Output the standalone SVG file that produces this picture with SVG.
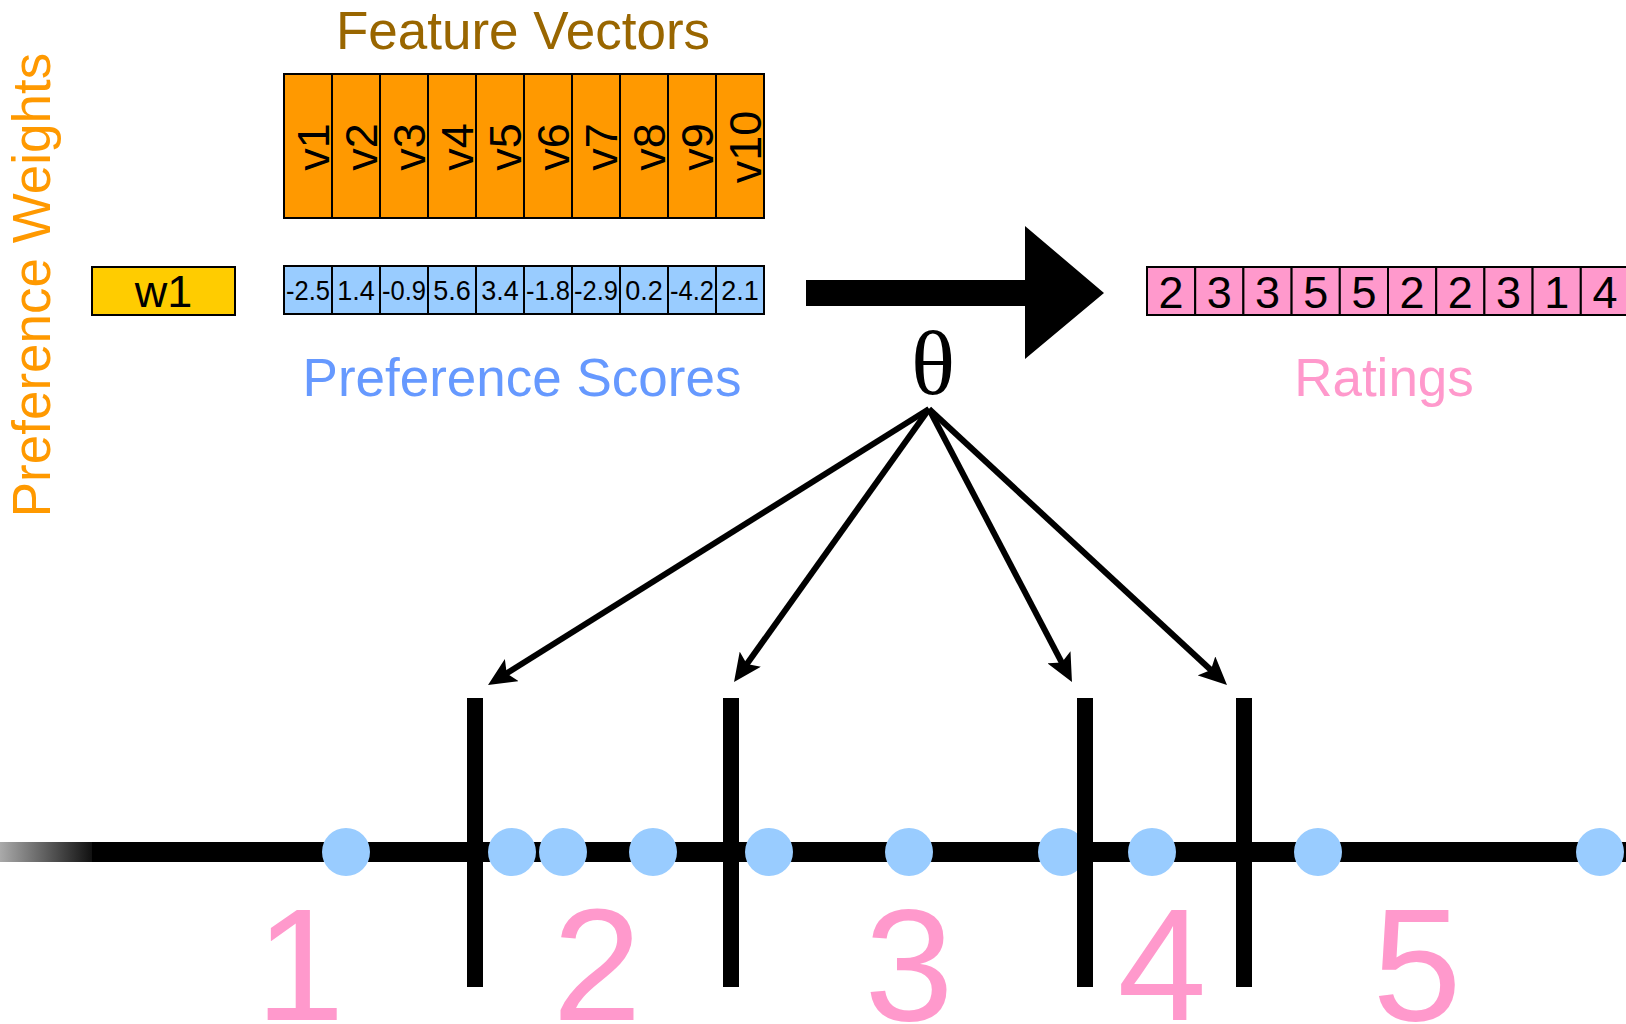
<svg xmlns="http://www.w3.org/2000/svg" width="1626" height="1024" viewBox="0 0 1626 1024">
<defs>
<style>
text{font-family:"Liberation Sans",Arial,sans-serif;}
.cellF{fill:#FF9900;stroke:#000;stroke-width:2;}
.cellB{fill:#99CCFF;stroke:#000;stroke-width:2;}
.cellR{fill:#FF99CC;stroke:#000;stroke-width:2;}
.vt{font-size:45px;fill:#000;text-anchor:middle;}
.st{font-size:27px;fill:#000;text-anchor:middle;}
.rt{font-size:45px;fill:#000;text-anchor:middle;}
.big{font-size:160px;fill:#FF99CC;text-anchor:middle;}
.dot{fill:#99CCFF;}
.bar{fill:#000;}
.conn{stroke:#000;stroke-width:6;fill:none;marker-end:url(#ah);}
</style>
<marker id="ah" markerUnits="userSpaceOnUse" markerWidth="28" markerHeight="26" viewBox="0 0 28 26" refX="16" refY="13" orient="auto">
<path d="M0,0 L28,13 L0,26 L6,13 Z" fill="#000"/>
</marker>
<linearGradient id="fade" x1="0" y1="0" x2="1" y2="0">
<stop offset="0" stop-color="#AAAAAA"/>
<stop offset="1" stop-color="#111111"/>
</linearGradient>
</defs>
<rect width="1626" height="1024" fill="#fff"/>

<g id="preference-weights-label">
<text transform="translate(50,285) rotate(-90)" style="font-size:53px;fill:#FF9900;text-anchor:middle;">Preference Weights</text>
</g>

<g id="feature-vectors-label">
<text x="523" y="49" style="font-size:53px;fill:#996600;text-anchor:middle;">Feature Vectors</text>
</g>

<g id="feature-vectors">
<rect class="cellF" x="284" y="74" width="48" height="144"/>
<rect class="cellF" x="332" y="74" width="48" height="144"/>
<rect class="cellF" x="380" y="74" width="48" height="144"/>
<rect class="cellF" x="428" y="74" width="48" height="144"/>
<rect class="cellF" x="476" y="74" width="48" height="144"/>
<rect class="cellF" x="524" y="74" width="48" height="144"/>
<rect class="cellF" x="572" y="74" width="48" height="144"/>
<rect class="cellF" x="620" y="74" width="48" height="144"/>
<rect class="cellF" x="668" y="74" width="48" height="144"/>
<rect class="cellF" x="716" y="74" width="48" height="144"/>
<text class="vt" transform="translate(329,147) rotate(-90)">v1</text>
<text class="vt" transform="translate(377,147) rotate(-90)">v2</text>
<text class="vt" transform="translate(425,147) rotate(-90)">v3</text>
<text class="vt" transform="translate(473,147) rotate(-90)">v4</text>
<text class="vt" transform="translate(521,147) rotate(-90)">v5</text>
<text class="vt" transform="translate(569,147) rotate(-90)">v6</text>
<text class="vt" transform="translate(617,147) rotate(-90)">v7</text>
<text class="vt" transform="translate(665,147) rotate(-90)">v8</text>
<text class="vt" transform="translate(713,147) rotate(-90)">v9</text>
<text class="vt" transform="translate(761,147) rotate(-90)">v10</text>
</g>

<g id="weight-w1">
<rect x="92" y="267" width="143" height="48" fill="#FFCC00" stroke="#000" stroke-width="2"/>
<text x="163.5" y="307" style="font-size:45px;fill:#000;text-anchor:middle;">w1</text>
</g>

<g id="preference-scores">
<rect class="cellB" x="284" y="266" width="48" height="48"/>
<rect class="cellB" x="332" y="266" width="48" height="48"/>
<rect class="cellB" x="380" y="266" width="48" height="48"/>
<rect class="cellB" x="428" y="266" width="48" height="48"/>
<rect class="cellB" x="476" y="266" width="48" height="48"/>
<rect class="cellB" x="524" y="266" width="48" height="48"/>
<rect class="cellB" x="572" y="266" width="48" height="48"/>
<rect class="cellB" x="620" y="266" width="48" height="48"/>
<rect class="cellB" x="668" y="266" width="48" height="48"/>
<rect class="cellB" x="716" y="266" width="48" height="48"/>
<text class="st" x="308" y="300" textLength="44" lengthAdjust="spacingAndGlyphs">-2.5</text>
<text class="st" x="356" y="300">1.4</text>
<text class="st" x="404" y="300" textLength="44" lengthAdjust="spacingAndGlyphs">-0.9</text>
<text class="st" x="452" y="300">5.6</text>
<text class="st" x="500" y="300">3.4</text>
<text class="st" x="548" y="300" textLength="44" lengthAdjust="spacingAndGlyphs">-1.8</text>
<text class="st" x="596" y="300" textLength="44" lengthAdjust="spacingAndGlyphs">-2.9</text>
<text class="st" x="644" y="300">0.2</text>
<text class="st" x="692" y="300" textLength="44" lengthAdjust="spacingAndGlyphs">-4.2</text>
<text class="st" x="740" y="300">2.1</text>
</g>

<g id="preference-scores-label">
<text x="522" y="396" style="font-size:53px;fill:#6699FF;text-anchor:middle;">Preference Scores</text>
</g>

<g id="big-arrow">
<polygon points="806,280 1025,280 1025,226 1104,293 1025,359 1025,306 806,306" fill="#000"/>
</g>

<g id="theta">
<text x="933" y="394" style="font-family:'Liberation Serif','Times New Roman',serif;font-size:92px;fill:#000;text-anchor:middle;">θ</text>
</g>

<g id="ratings">
<rect class="cellR" x="1147" y="267" width="48.2" height="48"/>
<rect class="cellR" x="1195.2" y="267" width="48.2" height="48"/>
<rect class="cellR" x="1243.4" y="267" width="48.2" height="48"/>
<rect class="cellR" x="1291.6" y="267" width="48.2" height="48"/>
<rect class="cellR" x="1339.8" y="267" width="48.2" height="48"/>
<rect class="cellR" x="1388" y="267" width="48.2" height="48"/>
<rect class="cellR" x="1436.2" y="267" width="48.2" height="48"/>
<rect class="cellR" x="1484.4" y="267" width="48.2" height="48"/>
<rect class="cellR" x="1532.6" y="267" width="48.2" height="48"/>
<rect class="cellR" x="1580.8" y="267" width="48.2" height="48"/>
<text class="rt" x="1171.1" y="308">2</text>
<text class="rt" x="1219.3" y="308">3</text>
<text class="rt" x="1267.5" y="308">3</text>
<text class="rt" x="1315.7" y="308">5</text>
<text class="rt" x="1363.9" y="308">5</text>
<text class="rt" x="1412.1" y="308">2</text>
<text class="rt" x="1460.3" y="308">2</text>
<text class="rt" x="1508.5" y="308">3</text>
<text class="rt" x="1556.7" y="308">1</text>
<text class="rt" x="1604.9" y="308">4</text>
</g>

<g id="ratings-label">
<text x="1384" y="396" style="font-size:53px;fill:#FF99CC;text-anchor:middle;">Ratings</text>
</g>

<g id="axis">
<rect x="0" y="842" width="92" height="20" fill="url(#fade)"/>
<rect x="92" y="842" width="1534" height="20" fill="#000"/>
</g>

<g id="score-points">
<circle class="dot" cx="346" cy="852" r="24"/>
<circle class="dot" cx="512" cy="852" r="24"/>
<circle class="dot" cx="563" cy="852" r="24"/>
<circle class="dot" cx="653" cy="852" r="24"/>
<circle class="dot" cx="769" cy="852" r="24"/>
<circle class="dot" cx="909" cy="852" r="24"/>
<circle class="dot" cx="1062" cy="852" r="24"/>
<circle class="dot" cx="1152" cy="852" r="24"/>
<circle class="dot" cx="1318" cy="852" r="24"/>
<circle class="dot" cx="1600" cy="852" r="24"/>
</g>

<g id="thresholds">
<rect class="bar" x="467" y="698" width="16" height="289"/>
<rect class="bar" x="723" y="698" width="16" height="289"/>
<rect class="bar" x="1077" y="698" width="16" height="289"/>
<rect class="bar" x="1236" y="698" width="16" height="289"/>
</g>

<g id="rating-levels">
<text class="big" x="300" y="1020">1</text>
<text class="big" x="597" y="1020">2</text>
<text class="big" x="909" y="1020">3</text>
<text class="big" x="1162" y="1020">4</text>
<text class="big" x="1417" y="1020">5</text>
</g>

<g id="connectors">
<line class="conn" x1="929" y1="409" x2="498.2" y2="678.6"/>
<line class="conn" x1="929" y1="409" x2="741" y2="672.2"/>
<line class="conn" x1="929" y1="409" x2="1066.4" y2="671.4"/>
<line class="conn" x1="929" y1="409" x2="1218.2" y2="676.8"/>
</g>
</svg>
